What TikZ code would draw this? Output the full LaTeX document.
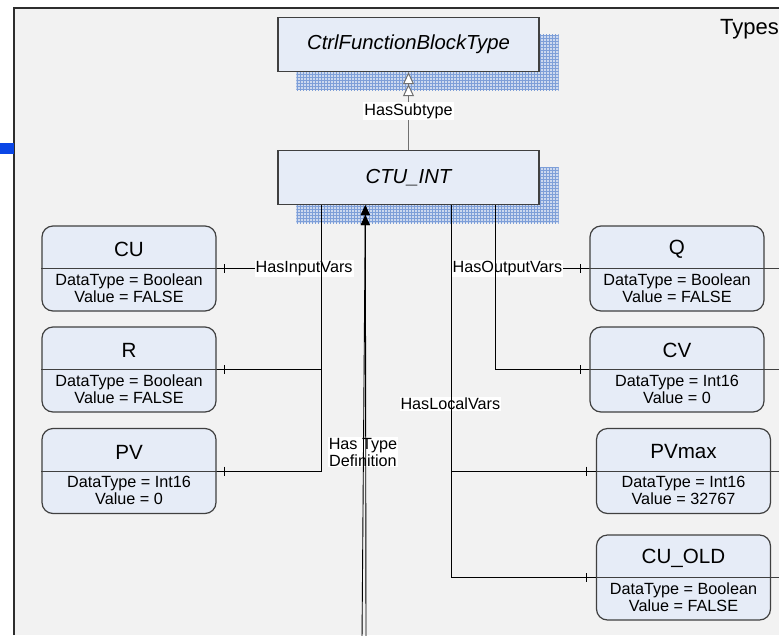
\documentclass[tikz,border=0pt]{standalone}
\usepackage{fontspec}
\setmainfont{Liberation Sans}
\usetikzlibrary{arrows.meta,patterns,calc}
\pgfdeclarelayer{bg}
\pgfdeclarelayer{shd}
\pgfsetlayers{bg,shd,main}
\definecolor{boxfill}{HTML}{E6ECF7}
\definecolor{boxborder}{HTML}{404040}
\definecolor{pagebg}{HTML}{F2F2F2}
\definecolor{shadowfill}{HTML}{CDD9EF}
\definecolor{shadowline}{HTML}{7E9FD8}
\definecolor{barblue}{HTML}{0A46E6}
\definecolor{subgray}{HTML}{707070}
\newcommand\mkvar[5]{%
  \node[varbox] (#1) at (#2,#3) {};
  \node[vtitle] (#1-t) at ($(#1.center)+(0,-19)$) {#4};
  \node[vattr] (#1-a) at ($(#1.center)+(0,19.5)$) {#5};
}
\begin{document}
\begin{tikzpicture}[x=1pt,y=-1pt,
  typebox/.style={draw=boxborder, line width=1.3pt, fill=boxfill,
    minimum width=261pt, minimum height=54pt, inner sep=0pt,
    font=\fontsize{20.3}{24}\selectfont\itshape},
  varbox/.style={draw=boxborder, line width=1.2pt, fill=boxfill,
    rounded corners=11pt, minimum width=174pt, minimum height=85pt, inner sep=0pt},
  vtitle/.style={font=\fontsize{20.6}{24}\selectfont, inner sep=0pt},
  vattr/.style={font=\fontsize{16.2}{17}\selectfont, align=center, inner sep=0pt},
  lbl/.style={fill=white, font=\fontsize{16.2}{17}\selectfont, inner sep=1pt, align=center},
  divl/.style={draw=boxborder, line width=1pt},
  conn/.style={draw=black, line width=0.9pt},
  subarr/.style={draw=subgray, line width=1.4pt,
    -{Triangle[fill=white,length=12pt,width=11pt,line width=1pt]Triangle[fill=white,length=12pt,width=11pt,line width=1pt]}},
  tdarr/.style={draw=black, line width=0.9pt,
    -{Triangle[length=10pt,width=9pt]Triangle[length=10pt,width=9pt]}}
]
\useasboundingbox (0,0) rectangle (779,635);
\begin{pgfonlayer}{bg}
  \fill[white] (0,0) rectangle (779,635);
  \fill[pagebg] (14,8) rectangle (779,635);
  \draw[boxborder!70!black, line width=1.2pt] (14,635) -- (14,8) -- (779,8);
  \fill[barblue] (0,143) rectangle (14,154);
\end{pgfonlayer}

\node[anchor=west, inner sep=0pt, font=\fontsize{22}{26}\selectfont] (types) at (720,29) {Types};

% type boxes
\node[typebox] (cfb) at (408.5,44.5) {CtrlFunctionBlockType};
\node[typebox] (ctu) at (408.5,177.5) {CTU\_INT};
\begin{pgfonlayer}{shd}
  \foreach \n in {cfb,ctu}{
    \fill[shadowfill] ($(\n.north west)+(19,18)$) rectangle ($(\n.south east)+(19,18)$);
    \fill[pattern=grid, pattern color=shadowline] ($(\n.north west)+(19,18)$) rectangle ($(\n.south east)+(19,18)$);
  }
\end{pgfonlayer}

% variable boxes
\mkvar{cu}{129}{268.5}{CU}{DataType = Boolean\\Value = FALSE}
\mkvar{r}{129}{369.5}{R}{DataType = Boolean\\Value = FALSE}
\mkvar{pv}{129}{471}{PV}{DataType = Int16\\Value = 0}
\mkvar{q}{677}{268.5}{Q}{DataType = Boolean\\Value = FALSE}
\mkvar{cv}{677}{369.5}{CV}{DataType = Int16\\Value = 0}
\mkvar{pvmax}{683.5}{471}{PVmax}{DataType = Int16\\Value = 32767}
\mkvar{cuold}{683.5}{577.5}{CU\_OLD}{DataType = Boolean\\Value = FALSE}

\coordinate (redge) at (779,0);
\foreach \n in {cu,r,pv}{\draw[divl] (\n.west) -- (\n.east);}
\foreach \n in {q,cv,pvmax,cuold}{\draw[divl] (\n.west) -- (\n.west -| redge);}

% anchor points on CTU_INT
\coordinate (inx)  at ($(ctu.south west)+(44,0)$);
\coordinate (tdx)  at ($(ctu.south west)+(88,0)$);
\coordinate (locx) at ($(ctu.south west)+(174,0)$);
\coordinate (outx) at ($(ctu.south west)+(218,0)$);
\coordinate (td1) at (362,640);
\coordinate (td2) at (366,640);

% HasSubtype
\draw[subarr] (ctu.north) -- (cfb.south) node[lbl, midway] (sublbl) {HasSubtype};

% input vars
\draw[conn] (cu.east) -| (inx);
\draw[conn] (r.east) -| (inx);
\draw[conn] (pv.east) -| (inx);
\foreach \n in {cu,r,pv}{\draw[conn] ($(\n.east)+(8,-4.5)$) -- ++(0,9);}
\node[lbl] (inlbl) at ($(cu.east)+(87.5,0)$) {HasInputVars};

% output vars
\draw[conn] (q.west) -| (outx);
\draw[conn] (cv.west) -| (outx);
\foreach \n in {q,cv}{\draw[conn] ($(\n.west)+(-9,-4.5)$) -- ++(0,9);}
\node[lbl] (outlbl) at ($(q.west)+(-82,0)$) {HasOutputVars};

% local vars
\draw[conn] (pvmax.west) -| (locx);
\draw[conn] (cuold.west) -| (locx);
\foreach \n in {pvmax,cuold}{\draw[conn] ($(\n.west)+(-9,-4.5)$) -- ++(0,9);}
\node[lbl] (loclbl) at ($(locx)+(-1,199)$) {HasLocalVars};

% type definition label
\node[lbl] (tdlbl) at (363,452) {Has Type\\Definition};

% trunks drawn over the labels
\draw[conn] (inx) -- (inx |- pv.east);
\draw[conn] (outx) -- (outx |- cv.west);
\draw[conn] (locx) -- (locx |- cuold.west);
\draw[tdarr] (td1) -- (tdx);
\draw[tdarr] (td2) -- (tdx);
\end{tikzpicture}
\end{document}
